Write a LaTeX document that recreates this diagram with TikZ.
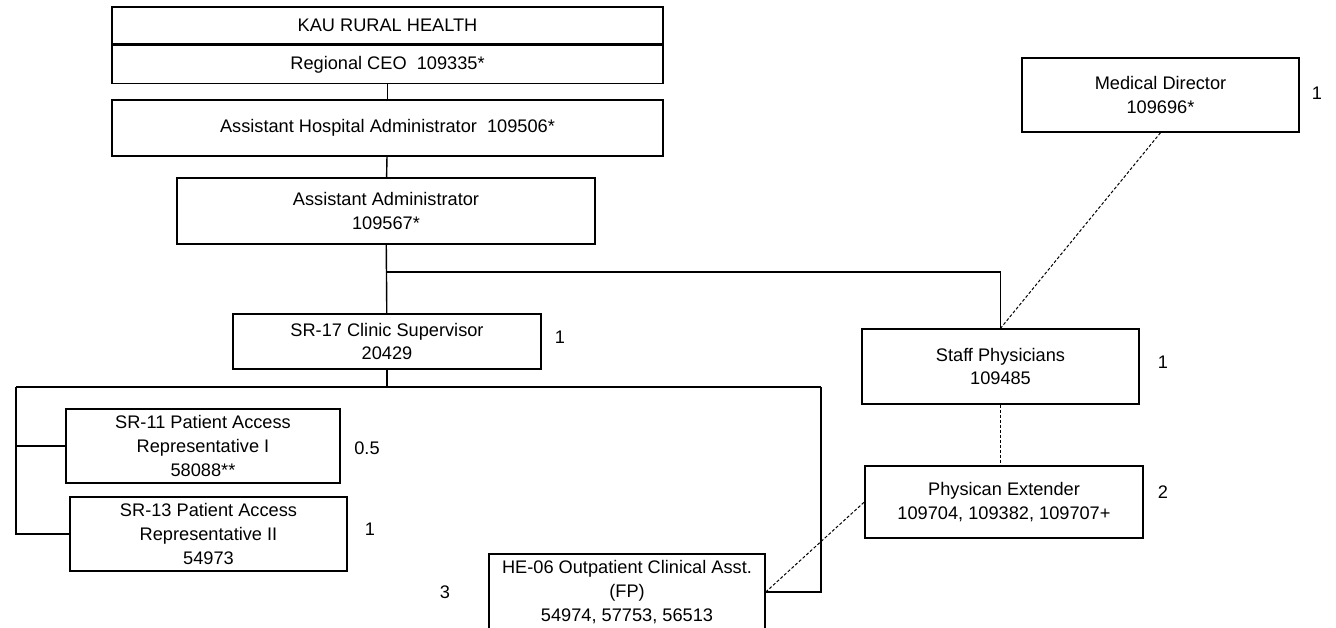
\documentclass[tikz,border=0pt]{standalone}
\usepackage{fontspec}
\setmainfont{Liberation Sans}
\usetikzlibrary{positioning}

\begin{document}
\begin{tikzpicture}[
  x=0.5pt, y=-0.5pt,
  font=\fontsize{9.1}{11.8}\selectfont,
  box/.style={rectangle, draw, line width=0.7pt, align=center, inner sep=0pt},
  link/.style={line width=0.7pt},
  dotlink/.style={line width=0.5pt, dash pattern=on 1.5pt off 1pt}
]
\useasboundingbox (0,0) rectangle (1336,627);
\clip (0,0) rectangle (1336,627);

\node[box, minimum width=275.5pt, minimum height=18.5pt] (kau) at (387.5,25.5) {KAU RURAL HEALTH};
\node[box, minimum width=275.5pt, minimum height=19pt, below=0pt of kau] (ceo) {Regional CEO\ \ 109335*};
\node[box, minimum width=275.5pt, minimum height=28pt] (aha) at (387.5,128) {Assistant Hospital Administrator\ \ 109506*};
\node[box, minimum width=209pt, minimum height=33pt] (aa) at (386,211) {Assistant Administrator\\109567*};
\node[box, minimum width=154pt, minimum height=27.5pt] (sr17) at (387,341.5) {SR-17 Clinic Supervisor\\20429};
\node[box, minimum width=137pt, minimum height=37pt] (sr11) at (203,446) {SR-11 Patient Access\\Representative I\\58088**};
\node[box, minimum width=138.5pt, minimum height=37pt] (sr13) at (208.5,534) {SR-13 Patient Access\\Representative II\\54973};
\node[box, minimum width=138pt, minimum height=38pt] (he06) at (627,592) {HE-06 Outpatient Clinical Asst.\\(FP)\\54974, 57753, 56513};
\node[box, minimum width=138.5pt, minimum height=37pt] (md) at (1160.5,95) {Medical Director\\109696*};
\node[box, minimum width=138.5pt, minimum height=37.5pt] (sp) at (1000.5,366.5) {Staff Physicians\\109485};
\node[box, minimum width=139pt, minimum height=36pt] (pe) at (1004,502) {Physican Extender\\109704, 109382, 109707+};

% position counts
\node (n-md) at (1317,93) {1};
\node (n-sr17) at (560,337) {1};
\node (n-sp) at (1163,362) {1};
\node (n-sr11) at (367,448) {0.5};
\node (n-sr13) at (370,529) {1};
\node (n-pe) at (1163,492) {2};
\node (n-he06) at (445,592) {3};

\coordinate (split) at (387,272);
\coordinate (bus) at (387,387);
\coordinate (busl) at (16,387);
\coordinate (busr) at (821,387);

\draw[link] (ceo) -- (aha);
\draw[link] (aha) -- (aa);
\draw[link] (aa) -- (sr17);
\draw[link] (split) -| (sp.north);
\draw[link] (sr17) -- (bus);
\draw[link] (busl) -- (busr);
\draw[link] (busl) |- (sr11.west);
\draw[link] (busl) |- (sr13.west);
\draw[link] (busr) |- (he06.east);

\draw[dotlink] (md.south) -- (sp.north);
\draw[dotlink] (sp.south) -- (sp.south |- pe.north);
\draw[dotlink] (he06.east) -- (pe.west);
\end{tikzpicture}
\end{document}
